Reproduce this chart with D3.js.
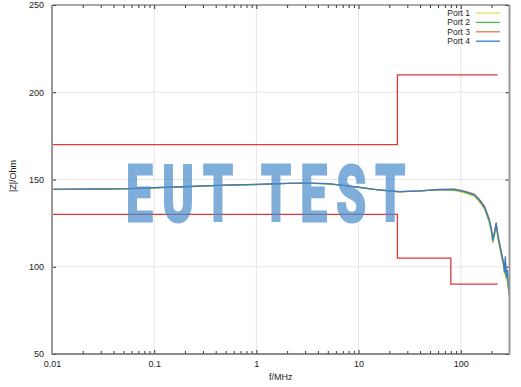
<!DOCTYPE html>
<html><head><meta charset="utf-8">
<script src="https://cdn.jsdelivr.net/npm/d3@7"></script>
<style>body{margin:0;background:#fff}svg{display:block;font-family:"Liberation Sans",Arial,sans-serif}</style>
</head><body><div id="c"></div>
<script>
const xTicks = [0.01, 0.1, 1, 10, 100];
const xTickLabels = ["0.01", "0.1", "1", "10", "100"];
const yTicks = [50, 100, 150, 200, 250];
const seriesNames = ["Port 1", "Port 2", "Port 3", "Port 4"];
const seriesColors = ["#e8dc5a", "#52b452", "#e0764e", "#2f7fc9"];

const freq = [0.01, 0.02, 0.03, 0.05, 0.1, 0.2, 0.3, 0.5, 1, 2, 3, 5, 7, 10, 16, 25, 40, 60, 87, 110, 136, 152, 171, 190, 200, 206, 214, 222, 233, 250, 264, 268, 273, 279, 286, 293, 300];
const port1 = [144.3, 144.4, 144.5, 144.6, 145.2, 145.8, 146.2, 146.7, 147.1, 147.7, 147.9, 147.5, 146.6, 145.5, 143.9, 142.9, 143.4, 144.0, 143.6, 142.2, 140.2, 137.2, 132.8, 125.0, 119.0, 113.5, 117.5, 122.8, 114.5, 105.5, 98.8, 95.5, 101.5, 92.0, 93.5, 86.0, 82.0];
const port2 = [144.3, 144.4, 144.5, 144.6, 145.2, 145.8, 146.2, 146.7, 147.1, 147.7, 147.9, 147.5, 146.6, 145.5, 143.9, 142.9, 143.4, 144.1, 144.0, 142.8, 140.8, 137.8, 133.6, 126.0, 120.0, 114.5, 118.5, 124.0, 115.8, 107.0, 100.2, 96.8, 103.0, 93.5, 95.5, 87.5, 83.5];
const port3 = [144.4, 144.5, 144.6, 144.7, 145.3, 145.9, 146.3, 146.8, 147.2, 147.8, 148.0, 147.6, 146.7, 145.6, 144.0, 143.0, 143.5, 144.3, 144.5, 143.4, 141.6, 138.8, 134.8, 127.5, 121.8, 116.5, 120.0, 125.2, 117.2, 108.5, 101.8, 98.5, 104.5, 95.5, 97.5, 89.0, 85.0];
const port4 = [144.4, 144.5, 144.6, 144.7, 145.3, 145.9, 146.3, 146.8, 147.2, 147.8, 148.0, 147.6, 146.7, 145.6, 144.0, 143.0, 143.5, 144.2, 144.3, 143.0, 141.2, 138.3, 134.2, 126.8, 121.0, 115.3, 119.2, 125.0, 116.5, 107.9, 101.0, 97.0, 105.8, 94.3, 98.0, 88.0, 84.0];
const portValues = [port1, port2, port3, port4];

const upperLimitF = [0.01, 24, 24, 230];
const upperLimitZ = [170, 170, 210, 210];
const lowerLimitF = [0.01, 24, 24, 80, 80, 230];
const lowerLimitZ = [130, 130, 105, 105, 90, 90];

const W = 521, H = 387;
const m = {l: 52, r: 11.5, t: 5, b: 33};
const svg = d3.select("#c").append("svg").attr("width", W).attr("height", H);
const x = d3.scaleLog().domain([0.01, 300]).range([m.l, W - m.r]);
const y = d3.scaleLinear().domain([50, 250]).range([H - m.b, m.t]);

// grid
const g = svg.append("g");
g.selectAll(".gx").data(xTicks.slice(1)).join("line")
  .attr("x1", d => x(d)).attr("x2", d => x(d)).attr("y1", y(50)).attr("y2", y(250))
  .attr("stroke", "#e6e6e6").attr("stroke-width", 1);
g.selectAll(".gy").data(yTicks.slice(1, -1)).join("line")
  .attr("x1", x(0.01)).attr("x2", x(300)).attr("y1", d => y(d)).attr("y2", d => y(d))
  .attr("stroke", "#e6e6e6").attr("stroke-width", 1);

// minor ticks
const minor = [];
for (let e = -2; e <= 2; e++) for (let k = 2; k <= 9; k++) { const v = k * Math.pow(10, e); if (v < 300) minor.push(v); }

const axB = d3.axisBottom(x).tickValues(xTicks).tickFormat((d, i) => xTickLabels[i]).tickSizeInner(-4).tickSizeOuter(0).tickPadding(7);
svg.append("g").attr("transform", `translate(0,${y(50)})`).call(axB);
const axT = d3.axisTop(x).tickValues(xTicks).tickFormat("").tickSizeInner(-4).tickSizeOuter(0);
svg.append("g").attr("transform", `translate(0,${y(250)})`).call(axT);
const mB = d3.axisBottom(x).tickValues(minor).tickFormat("").tickSizeInner(-3).tickSizeOuter(0);
svg.append("g").attr("transform", `translate(0,${y(50)})`).call(mB);
const mT = d3.axisTop(x).tickValues(minor).tickFormat("").tickSizeInner(-3).tickSizeOuter(0);
svg.append("g").attr("transform", `translate(0,${y(250)})`).call(mT);
const axL = d3.axisLeft(y).tickValues(yTicks).tickSizeInner(-4).tickSizeOuter(0).tickPadding(8);
svg.append("g").attr("transform", `translate(${x(0.01)},0)`).call(axL);
const axR = d3.axisRight(y).tickValues(yTicks).tickFormat("").tickSizeInner(-4).tickSizeOuter(0);
svg.append("g").attr("transform", `translate(${x(300)},0)`).call(axR);
svg.selectAll(".tick line").attr("stroke", "#333");
svg.selectAll(".tick text").attr("font-size", 9).attr("fill", "#222").attr("font-family", "Liberation Sans, Arial, sans-serif");
svg.selectAll(".domain").remove();

// limits
const lineL = d3.line().x(d => x(d[0])).y(d => y(d[1]));
svg.append("path").attr("d", lineL(upperLimitF.map((f, i) => [f, upperLimitZ[i]])))
  .attr("fill", "none").attr("stroke", "#e03838").attr("stroke-width", 1.3);
svg.append("path").attr("d", lineL(lowerLimitF.map((f, i) => [f, lowerLimitZ[i]])))
  .attr("fill", "none").attr("stroke", "#e03838").attr("stroke-width", 1.3);

// series
portValues.forEach((vals, k) => {
  svg.append("path").attr("d", lineL(freq.map((f, i) => [f, vals[i]])))
    .attr("fill", "none").attr("stroke", seriesColors[k]).attr("stroke-width", 1.2)
    .attr("stroke-linejoin", "round");
});

// border
const bx0 = x(0.01), bx1 = x(300), by0 = y(250), by1 = y(50);
svg.append("line").attr("x1", bx0).attr("x2", bx1).attr("y1", by0).attr("y2", by0).attr("stroke", "#555").attr("stroke-width", 1);
svg.append("line").attr("x1", bx0).attr("x2", bx1).attr("y1", by1).attr("y2", by1).attr("stroke", "#666").attr("stroke-width", 1.3);
svg.append("line").attr("x1", bx0).attr("x2", bx0).attr("y1", by0).attr("y2", by1).attr("stroke", "#999").attr("stroke-width", 2);
svg.append("line").attr("x1", bx1).attr("x2", bx1).attr("y1", by0).attr("y2", by1).attr("stroke", "#999").attr("stroke-width", 2);

// legend
const lg = svg.append("g");
seriesNames.forEach((n, i) => {
  const yy = 13 + i * 9.4;
  lg.append("text").attr("x", 470).attr("y", yy + 3).attr("text-anchor", "end")
    .attr("font-size", 8.5).attr("fill", "#222").text(n);
  lg.append("line").attr("x1", 476).attr("x2", 500).attr("y1", yy).attr("y2", yy)
    .attr("stroke", seriesColors[i]).attr("stroke-width", 1.3);
});

// axis labels
svg.append("text").attr("x", (bx0 + bx1) / 2).attr("y", 380).attr("text-anchor", "middle")
  .attr("font-size", 9).attr("fill", "#222").text("f/MHz");
svg.append("text").attr("transform", `translate(16,176) rotate(-90)`).attr("text-anchor", "middle")
  .attr("font-size", 9).attr("fill", "#222").text("|Z|/Ohm");

// watermark (horizontally condensed bold sans, thickened with stroke)
const sx = 0.62;
svg.append("text").attr("transform", `translate(126,221) scale(${sx},1)`)
  .attr("x", 0).attr("y", 0).attr("textLength", 279 / sx).attr("lengthAdjust", "spacing")
  .attr("font-family", "Roboto, Liberation Sans, sans-serif")
  .attr("font-weight", "bold").attr("font-size", 77).attr("fill", "#4a8ccc")
  .attr("stroke", "#4a8ccc").attr("stroke-width", 3.2).attr("stroke-linejoin", "miter")
  .attr("opacity", 0.7)
  .text("EUT TEST");
</script></body></html>
